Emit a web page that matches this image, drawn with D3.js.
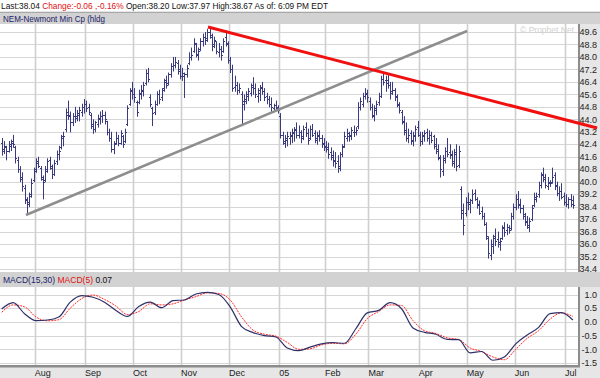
<!DOCTYPE html>
<html>
<head>
<meta charset="utf-8">
<script src="https://cdn.jsdelivr.net/npm/d3@7"></script>
<style>
  html, body { margin: 0; padding: 0; background: #fff; }
  svg { display: block; font-family: "Liberation Sans", Arial, sans-serif; }
</style>
</head>
<body>
<div id="chart"></div>
<script>
// ---- data ------------------------------------------------------------
// one bar per trading day, mid-July 2004 .. early July 2005
const hi = [
  42.8,42.6,42.3,42.6,42.7,43.0,42.3,41.6,41.0,40.6, 39.8,39.0,39.3,40.2,40.9,
  41.5,41.6,41.0,40.4,41.0,41.5,41.6,41.1,41.4,42.0, 42.3,43.0,43.2,44.7,45.2,44.5,44.4,44.8,44.6,44.8, 45.0,45.3,
  45.2,45.0,44.4,44.0,43.9,44.3,44.5,44.6,44.5,43.9, 43.4,43.2,42.6,43.2,43.0,43.3,43.0,43.4,44.9,46.0, 46.4,
  46.0,45.2,45.9,46.2,46.4,47.2,47.3,45.6,44.8,45.2, 45.8,45.9,46.0,46.6,46.8,47.0,47.6,48.0,48.0,47.8, 47.5,
  47.3,47.0,47.5,48.3,48.6,49.2,48.9,48.6,49.2,49.5, 49.6,49.8,49.9,49.5,49.3,49.0,48.9,48.7,49.2,49.7, 49.0,
  48.0,47.5,46.8,46.4,46.3,45.8,45.6,45.8,46.0,46.3, 46.7,46.3,46.0,46.2,46.4,46.0,45.7,45.5,45.4,45.0, 45.2,44.9,
  44.4,43.2,43.0,43.2,43.2,43.4,43.5,43.8,43.6,43.3, 43.6,43.8,43.4,43.6,43.7,43.3,43.2,43.3,43.0,42.8,
  42.6,42.5,42.2,42.0,41.9,41.7,41.9,42.4,43.2,43.4, 43.2,43.5,43.6,43.5,45.1,45.4,45.7,46.0,45.9,
  45.4,45.0,44.9,45.2,45.7,46.8,47.0,46.8,46.9,46.4, 46.4,46.0,45.6,45.1,44.6,44.2,43.8,43.4,43.3,43.2, 43.6,43.9,
  43.2,43.2,43.3,43.4,43.3,43.2,43.0,42.8,42.4,41.7, 41.7,42.2,42.8,42.4,42.0,42.1,42.4,42.3,39.7,38.6, 39.0,
  39.3,38.9,39.5,39.5,39.0,38.8,38.4,38.0,37.4,36.5, 36.3,36.6,37.0,36.8,36.4,37.2,37.4,37.3,37.2,38.0, 38.6,
  39.2,39.4,38.9,38.5,38.0,37.8,37.7,38.5,39.3,39.3, 40.0,40.6,40.9,40.5,40.3,40.1,40.9,40.6,40.0,39.7, 39.9,39.3,
  39.2,39.0,39.2,39.1
];
const lo = [
  41.7,41.8,41.4,41.9,42.0,42.2,41.2,40.6,40.0,39.4, 38.6,37.9,38.4,39.0,40.0,
  40.6,40.9,40.1,38.9,40.0,40.6,40.8,40.2,40.4,41.1, 41.4,42.1,42.3,43.2,44.0,43.2,43.6,43.8,43.9,43.9, 44.2,44.4,
  44.5,44.3,43.4,43.1,43.2,43.5,43.7,43.8,43.7,43.0, 42.6,41.9,41.8,42.4,42.3,42.4,42.2,42.5,43.6,44.9, 45.3,
  45.1,44.2,45.0,45.3,45.5,46.2,46.4,44.8,43.6,44.3, 44.9,45.0,45.2,45.8,46.0,46.2,46.7,47.1,47.3,46.9, 46.6,
  46.5,45.4,46.7,47.5,47.8,48.3,48.0,47.8,48.4,48.7, 48.8,49.0,49.2,48.4,48.6,48.2,48.0,47.8,48.3,48.7, 47.6,
  47.0,45.8,45.8,45.6,45.7,43.6,44.6,45.0,45.2,45.5, 45.6,45.4,45.1,45.2,45.6,45.2,45.0,44.8,44.5,44.5, 44.6,44.4,
  42.8,42.4,42.2,42.3,42.4,42.5,42.6,42.8,42.8,42.5, 42.7,42.9,42.4,42.7,42.9,42.5,42.4,42.6,42.2,42.0,
  41.9,41.5,41.4,41.0,40.9,40.6,40.7,41.6,42.2,42.6, 42.6,42.7,42.9,43.0,43.4,44.6,44.8,45.3,45.1,
  44.6,44.1,43.9,44.3,44.9,45.4,46.2,45.8,46.0,45.3, 45.6,45.2,44.8,44.4,43.7,43.0,42.6,42.5,42.4,42.3, 42.6,42.9,
  42.3,42.4,42.6,42.6,42.4,42.5,42.1,41.8,41.4,40.3, 40.4,41.2,41.6,41.5,41.0,40.9,40.7,40.9,37.6,36.6, 37.8,
  38.2,38.0,38.6,38.8,38.3,37.9,37.6,37.2,36.3,35.1, 35.0,35.4,35.9,35.8,35.6,36.3,36.5,36.6,36.7,36.9, 37.6,
  38.2,38.3,38.0,37.6,37.2,37.0,36.8,37.5,38.4,38.7, 39.0,39.6,40.0,39.6,39.5,39.7,39.9,39.5,39.1,38.8, 38.9,38.5,
  38.4,38.3,38.4,38.3
];
const op = [
  42.5,42.1,42.2,42.0,42.3,42.6,42.2,41.4,40.8,40.2, 39.6,38.8,38.7,39.2,40.1,
  40.8,41.3,40.9,40.2,40.1,40.7,41.4,40.9,40.5,41.3, 41.8,42.2,42.9,43.4,44.5,44.2,43.8,44.2,44.2,44.3, 44.5,44.8,
  45.0,44.8,44.3,43.6,43.4,43.7,44.0,44.2,44.3,43.9, 43.2,42.8,42.1,42.5,42.8,42.5,42.9,42.6,43.7,45.0, 45.9,
  45.6,45.1,45.1,45.6,45.8,46.3,47.0,45.4,44.7,44.5, 45.0,45.6,45.4,46.0,46.5,46.3,46.9,47.4,47.5,47.6, 47.2,
  46.8,46.8,46.9,47.6,48.0,48.4,48.8,48.1,48.5,49.0, 49.3,49.2,49.6,49.3,48.8,49.0,48.3,48.5,48.4,49.3, 48.8,
  47.8,47.2,46.1,46.2,45.9,45.6,45.0,45.2,45.5,45.7, 46.2,46.0,45.5,45.7,46.1,45.8,45.5,45.3,45.0,44.7, 44.9,44.7,
  44.2,43.0,42.5,42.7,42.8,42.9,43.1,43.4,43.0,43.2, 42.9,43.5,43.1,42.8,43.4,43.1,42.7,42.9,42.8,42.5,
  42.3,42.2,41.9,41.7,41.4,41.3,40.9,41.8,42.3,42.8, 43.1,42.9,43.2,43.2,43.6,44.8,45.0,45.5,45.7,
  45.2,44.8,44.2,44.6,45.1,45.5,46.6,46.5,46.3,46.2, 45.7,45.9,45.5,44.9,44.5,43.8,43.3,42.8,43.1,42.6, 42.9,43.5,
  43.0,42.6,42.9,43.2,42.8,43.0,42.9,42.4,42.1,41.5, 40.7,41.4,42.0,41.9,41.8,41.2,41.9,41.1,39.5,38.2, 38.0,
  38.7,38.7,38.8,39.3,38.9,38.6,38.1,37.8,37.3,36.4, 35.3,35.9,36.5,36.3,36.1,36.4,37.1,36.9,37.1,37.0, 37.8,
  38.4,38.9,38.6,38.3,37.9,37.5,37.1,37.6,38.5,38.9, 39.2,39.8,40.5,40.3,39.7,39.9,40.0,40.4,39.8,39.3, 39.4,39.1,
  38.7,38.6,38.9,38.8
];
const cl = [
  42.0,42.3,42.0,42.4,42.5,42.4,41.5,40.8,40.3,39.7, 38.9,38.6,39.1,39.9,40.7,
  41.2,41.0,40.3,40.0,40.8,41.3,41.0,40.5,41.2,41.8, 42.0,42.8,42.9,44.3,44.3,43.8,44.2,44.1,44.4,44.6, 44.8,45.0,
  44.7,44.5,43.7,43.4,43.8,44.1,44.2,44.3,44.0,43.2, 42.8,42.1,42.4,42.8,42.5,43.1,42.4,43.2,44.7,45.8, 45.6,
  45.4,44.5,45.7,45.9,46.2,47.0,46.6,45.0,44.4,45.0, 45.6,45.3,45.9,46.4,46.2,46.9,47.4,47.5,47.7,47.1, 46.8,
  47.0,46.9,47.3,48.0,48.1,48.9,48.2,48.4,49.0,49.3, 49.1,49.6,49.4,48.7,49.1,48.4,48.5,48.1,49.0,48.9, 47.8,
  47.2,46.0,46.2,45.9,46.0,45.2,45.3,45.6,45.8,46.1, 46.0,45.6,45.9,46.0,45.8,45.4,45.3,45.0,44.8,44.9, 44.8,44.6,
  43.0,42.6,42.8,42.9,43.0,43.2,43.3,43.0,43.2,42.8, 43.4,43.1,42.7,43.4,43.0,42.8,43.0,42.8,42.4,42.2,
  42.1,41.8,41.6,41.3,41.2,41.0,41.8,42.2,42.9,42.9, 43.0,43.3,43.2,43.3,44.8,45.2,45.5,45.6,45.4,
  44.8,44.3,44.7,45.0,45.5,46.6,46.4,46.5,46.2,45.8, 45.9,45.4,45.0,44.6,43.9,43.2,42.8,43.0,42.7,43.0, 43.4,43.0,
  42.6,43.0,43.1,42.8,43.0,42.7,42.3,42.0,41.6,40.8, 41.5,42.0,41.8,41.7,41.3,41.8,41.0,42.0,38.0,37.2, 38.7,
  38.6,38.8,39.2,38.9,38.5,38.0,37.8,37.3,36.5,35.4, 36.0,36.4,36.2,36.0,36.2,37.0,36.8,37.1,36.9,37.8, 38.4,
  38.9,38.5,38.3,37.8,37.4,37.2,37.5,38.3,39.0,39.1, 39.8,40.4,40.2,39.8,40.0,39.9,40.3,39.7,39.3,39.4, 39.0,38.7,
  38.6,38.9,38.6,38.5
];

// MACD(15,30) and its 5-day signal, read every 5th trading day
const macdDays = [0,5,10,15,20,25,30,35,40,45,50,55,60,65,70,75,80,85,90,95,100,105,110,115,120,125,
  130,135,140,145,150,155,160,165,170,175,180,185,190,195,200,205,210,215,220,225,230,235,240,245,250];
const macdVals = [0.47,0.70,0.30,0.05,0.07,0.18,0.72,0.96,0.90,0.72,0.42,0.20,0.56,0.72,0.52,0.78,0.80,1.02,1.08,1.00,
  0.55,-0.17,-0.39,-0.50,-0.55,-0.95,-1.05,-0.92,-0.80,-0.76,-0.78,-0.25,0.33,0.42,0.70,0.48,-0.22,-0.38,-0.45,-0.64,
  -0.65,-1.13,-1.08,-1.40,-1.28,-0.80,-0.48,-0.20,0.30,0.34,0.07];
const signalVals = [0.35,0.62,0.55,0.18,0.04,0.08,0.50,0.85,0.98,0.82,0.58,0.27,0.38,0.66,0.62,0.66,0.80,0.92,1.06,1.04,
  0.80,0.18,-0.30,-0.45,-0.52,-0.75,-1.00,-0.98,-0.84,-0.78,-0.80,-0.45,0.12,0.38,0.62,0.60,0.05,-0.32,-0.42,-0.58,
  -0.64,-0.95,-1.08,-1.28,-1.38,-1.00,-0.60,-0.32,0.10,0.33,0.20];

// first trading day of each month, and its label
const monthStarts = [15, 37, 58, 79, 100, 122, 142, 161, 183, 204, 225, 247];
const monthLabels = ['Aug','Sep','Oct','Nov','Dec','05','Feb','Mar','Apr','May','Jun','Jul'];

const priceTicks = [49.6,48.8,48.0,47.2,46.4,45.6,44.8,44.0,43.2,42.4,41.6,40.8,40.0,39.2,38.4,37.6,36.8,36.0,35.2,34.4];
const macdTicks = [1.0, 0.5, 0.0, -0.5, -1.0, -1.5];

// trend lines drawn on the chart: [day, price]
const supportLine = [[10.6, 37.86], [203.7, 49.66]];
const resistLine = [[90.3, 49.92], [260.6, 43.44]];

// ---- drawing ------------------------------------------------------------
const W = 600, H = 378;
const plotL = 0, plotR = 578;
const main = { t: 24, b: 272 };
const macd = { t: 287, b: 365 };
const BAR = '#3a3a80';

const svg = d3.select('#chart').append('svg')
  .attr('width', W).attr('height', H);

// frame background
svg.append('rect').attr('x', 0).attr('y', 11).attr('width', W).attr('height', H - 11).attr('fill', '#e6e6e6');

// header line
const head = svg.append('text').attr('x', 1).attr('y', 9).attr('font-size', 8.8).attr('fill', '#111')
  .attr('textLength', 327).attr('lengthAdjust', 'spacingAndGlyphs');
head.append('tspan').text('Last:38.04 ');
head.append('tspan').attr('fill', '#e01010').text('Change:-0.06 ,-0.16% ');
head.append('tspan').text('Open:38.20 Low:37.97 High:38.67 As of: 6:09 PM EDT');

// title band
svg.append('rect').attr('x', 0).attr('y', 12).attr('width', W).attr('height', 12).attr('fill', '#d2d2d2');
svg.append('line').attr('x1', 0).attr('x2', W).attr('y1', 12.5).attr('y2', 12.5).attr('stroke', '#a8a8a8');
svg.append('text').attr('x', 3).attr('y', 21.5).attr('font-size', 8.8).attr('fill', '#1c1c6a')
  .attr('textLength', 102).attr('lengthAdjust', 'spacingAndGlyphs')
  .text('NEM-Newmont Min Cp (hldg');

const x = d3.scaleLinear().domain([0, 250]).range([1.7, 572.9]);
const y = d3.scaleLinear().domain([34.4, 49.6]).range([269, 32]);
const ym = d3.scaleLinear().domain([-1.5, 1.0]).range([363, 294.5]);

function panel(top, bottom, yScale, ticks, fmt) {
  const g = svg.append('g');
  g.append('rect').attr('x', plotL).attr('y', top).attr('width', plotR - plotL).attr('height', bottom - top)
    .attr('fill', '#fff');
  g.append('g').selectAll('line').data(ticks).join('line')
    .attr('x1', plotL).attr('x2', plotR)
    .attr('y1', d => Math.round(yScale(d)) + 0.5).attr('y2', d => Math.round(yScale(d)) + 0.5)
    .attr('stroke', '#d6d6d6');
  g.append('g').selectAll('line').data(monthStarts).join('line')
    .attr('x1', d => Math.round(x(d - 0.5)) + 0.5).attr('x2', d => Math.round(x(d - 0.5)) + 0.5)
    .attr('y1', top).attr('y2', bottom)
    .attr('stroke', '#cfcfcf').attr('stroke-width', 1.6);
  // right axis
  g.append('line').attr('x1', plotR + 1).attr('x2', plotR + 1).attr('y1', top).attr('y2', bottom)
    .attr('stroke', '#8c8c8c').attr('stroke-width', 2);
  g.append('g').selectAll('text').data(ticks).join('text')
    .attr('x', 597).attr('y', d => yScale(d) + 3.2)
    .attr('text-anchor', 'end').attr('font-size', 9).attr('fill', '#222')
    .text(fmt);
  return g;
}

panel(main.t, main.b, y, priceTicks, d => d.toFixed(1));

svg.append('text').attr('x', 574).attr('y', 33).attr('text-anchor', 'end')
  .attr('font-size', 8.5).attr('fill', '#d0d0d0')
  .text('© Prophet.Net');

// OHLC bars
const bars = svg.append('g').attr('stroke', BAR).attr('stroke-width', 1).attr('fill', 'none');
hi.forEach((h, i) => {
  const cx = Math.round(x(i)) + 0.5;
  bars.append('line').attr('x1', cx).attr('x2', cx).attr('y1', y(h)).attr('y2', y(lo[i]) + 0.5);
  bars.append('line').attr('x1', cx - 1.5).attr('x2', cx).attr('y1', Math.round(y(op[i])) + 0.5).attr('y2', Math.round(y(op[i])) + 0.5);
  bars.append('line').attr('x1', cx).attr('x2', cx + 1.5).attr('y1', Math.round(y(cl[i])) + 0.5).attr('y2', Math.round(y(cl[i])) + 0.5);
});

// trend lines
const tl = d3.line().x(d => x(d[0])).y(d => y(d[1]));
svg.append('path').attr('d', tl(supportLine)).attr('stroke', '#8e8e8e').attr('stroke-width', 2.6).attr('fill', 'none');
svg.append('path').attr('d', tl(resistLine)).attr('stroke', '#f01010').attr('stroke-width', 3).attr('fill', 'none');

// MACD band label
svg.append('rect').attr('x', 0).attr('y', main.b).attr('width', W).attr('height', macd.t - main.b).attr('fill', '#d2d2d2');
const ml = svg.append('text').attr('x', 3).attr('y', 283).attr('font-size', 8.8)
  .attr('textLength', 109).attr('lengthAdjust', 'spacingAndGlyphs');
ml.append('tspan').attr('fill', '#1c1c6a').text('MACD(15,30) ');
ml.append('tspan').attr('fill', '#e01010').text('MACD(5) ');
ml.append('tspan').attr('fill', '#111').text(' 0.07');

panel(macd.t, macd.b, ym, macdTicks, d => d.toFixed(1));

const ml2 = d3.line().x((d, i) => x(macdDays[i])).y(d => ym(d)).curve(d3.curveMonotoneX);
svg.append('path').attr('d', ml2(signalVals)).attr('stroke', '#ff2a2a').attr('stroke-width', 1)
  .attr('stroke-dasharray', '2 1').attr('fill', 'none');
svg.append('path').attr('d', ml2(macdVals)).attr('stroke', '#303068').attr('stroke-width', 1.2).attr('fill', 'none');

// bottom axis
svg.append('rect').attr('x', 0).attr('y', macd.b).attr('width', plotR + 2).attr('height', 2.5).attr('fill', '#8c8c8c');
svg.append('g').selectAll('text').data(monthStarts).join('text')
  .attr('x', d => x(d - 0.5)).attr('y', 376)
  .attr('font-size', 9).attr('fill', '#222')
  .text((d, i) => monthLabels[i]);
</script>
</body>
</html>
